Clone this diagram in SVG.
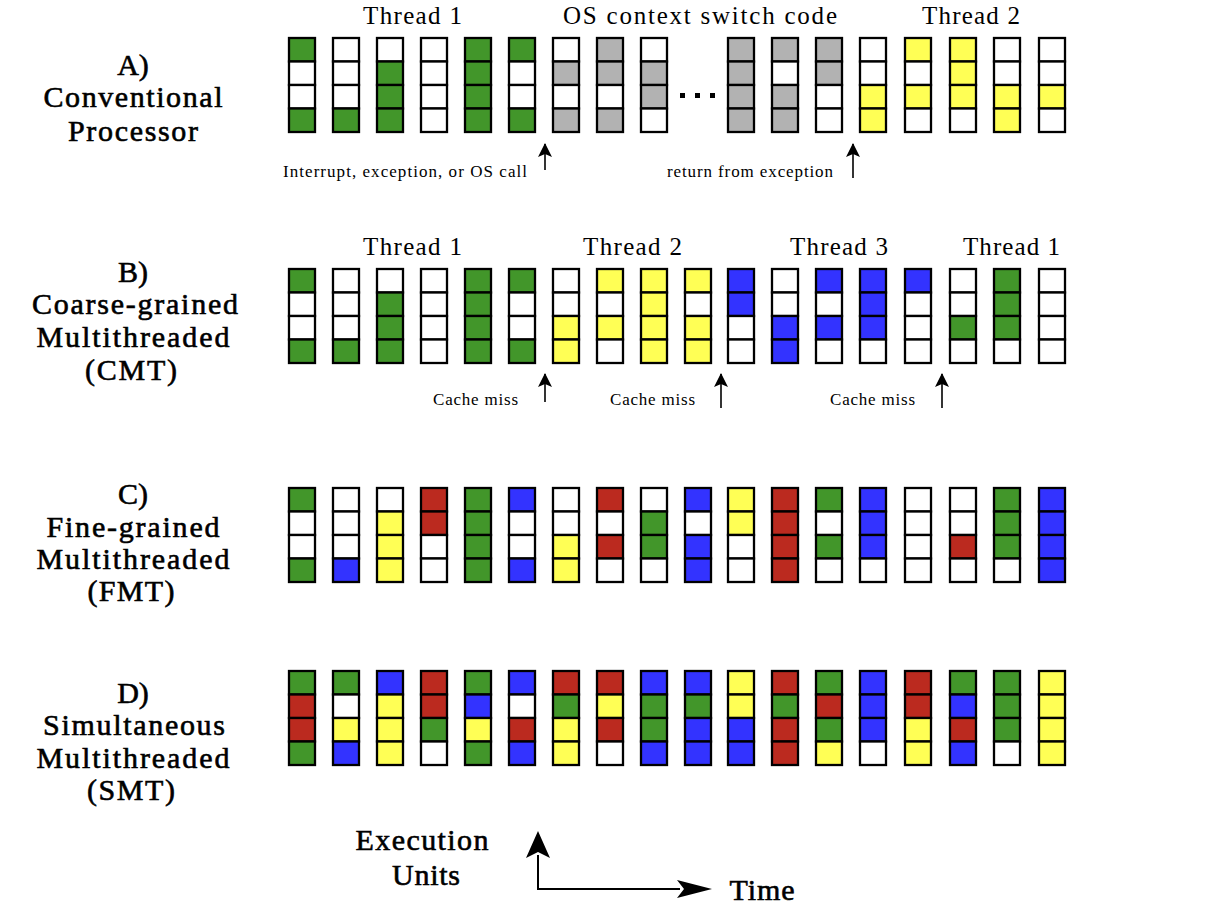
<svg xmlns="http://www.w3.org/2000/svg" xmlns:xlink="http://www.w3.org/1999/xlink" width="1206" height="910" viewBox="0 0 1206 910">
<style>
.c{stroke:#000;stroke-width:2.3}
.g{fill:#42962a}.w{fill:#fff}.y{fill:#ffff55}.b{fill:#3333ff}.r{fill:#bb2a1f}.s{fill:#b2b2b2}
text{font-family:"Liberation Serif","Times New Roman",serif;fill:#000}
.hd{font-size:25px}
.lb{font-size:30px;text-anchor:middle;stroke:#000;stroke-width:0.6}
.an{font-size:17px}
.ar{stroke:#000;stroke-width:1.6;fill:none}
.ax{stroke:#000;stroke-width:2;fill:none}
</style>
<defs>
<rect id="G" class="c g" x="1" y="1" width="26" height="23.5"/>
<rect id="W" class="c w" x="1" y="1" width="26" height="23.5"/>
<rect id="Y" class="c y" x="1" y="1" width="26" height="23.5"/>
<rect id="B" class="c b" x="1" y="1" width="26" height="23.5"/>
<rect id="R" class="c r" x="1" y="1" width="26" height="23.5"/>
<rect id="S" class="c s" x="1" y="1" width="26" height="23.5"/>
<marker id="ah" markerWidth="14" markerHeight="14" refX="13" refY="7" orient="auto" markerUnits="userSpaceOnUse"><path d="M0,0 L14,7 L0,14 L3,7 z" fill="#000"/></marker>
</defs>
<rect width="1206" height="910" fill="#fff"/>

<!-- Labels -->
<g id="label-a">
<text class="lb" x="133" y="75">A)</text>
<text class="lb" x="133" y="107" textLength="179" lengthAdjust="spacing">Conventional</text>
<text class="lb" x="133" y="141" textLength="130" lengthAdjust="spacing">Processor</text>
</g>
<g id="label-b">
<text class="lb" x="133" y="282">B)</text>
<text class="lb" x="135" y="314" textLength="206" lengthAdjust="spacing">Coarse-grained</text>
<text class="lb" x="133" y="347" textLength="193" lengthAdjust="spacing">Multithreaded</text>
<text class="lb" x="131" y="380" textLength="92" lengthAdjust="spacing">(CMT)</text>
</g>
<g id="label-c">
<text class="lb" x="133" y="504">C)</text>
<text class="lb" x="133" y="537" textLength="173" lengthAdjust="spacing">Fine-grained</text>
<text class="lb" x="133" y="569" textLength="193" lengthAdjust="spacing">Multithreaded</text>
<text class="lb" x="131" y="601" textLength="87" lengthAdjust="spacing">(FMT)</text>
</g>
<g id="label-d">
<text class="lb" x="133" y="703">D)</text>
<text class="lb" x="134" y="735" textLength="182" lengthAdjust="spacing">Simultaneous</text>
<text class="lb" x="133" y="768" textLength="193" lengthAdjust="spacing">Multithreaded</text>
<text class="lb" x="131" y="800" textLength="88" lengthAdjust="spacing">(SMT)</text>
</g>

<!-- Headers -->
<g id="headers">
<text class="hd" x="363" y="24" textLength="99" lengthAdjust="spacing">Thread 1</text>
<text class="hd" x="563" y="24" textLength="274" lengthAdjust="spacing">OS context switch code</text>
<text class="hd" x="922" y="24" textLength="98" lengthAdjust="spacing">Thread 2</text>
<text class="hd" x="363" y="255" textLength="99" lengthAdjust="spacing">Thread 1</text>
<text class="hd" x="583" y="255" textLength="99" lengthAdjust="spacing">Thread 2</text>
<text class="hd" x="790" y="255" textLength="98" lengthAdjust="spacing">Thread 3</text>
<text class="hd" x="963" y="255" textLength="97" lengthAdjust="spacing">Thread 1</text>
</g>

<!-- Annotations -->
<g id="annotations">
<text class="an" x="283" y="177" textLength="244" lengthAdjust="spacing">Interrupt, exception, or OS call</text>
<text class="an" x="667" y="177" textLength="166" lengthAdjust="spacing">return from exception</text>
<text class="an" x="433" y="405" textLength="85" lengthAdjust="spacing">Cache miss</text>
<text class="an" x="610" y="405" textLength="85" lengthAdjust="spacing">Cache miss</text>
<text class="an" x="830" y="405" textLength="85" lengthAdjust="spacing">Cache miss</text>
</g>

<!-- Row A -->
<g id="row-a">
<g id="a0" transform="translate(288,37)"><use href="#G"/><use href="#W" y="23.5"/><use href="#W" y="47"/><use href="#G" y="70.5"/></g>
<g id="a1" transform="translate(332,37)"><use href="#W"/><use href="#W" y="23.5"/><use href="#W" y="47"/><use href="#G" y="70.5"/></g>
<g id="a2" transform="translate(376,37)"><use href="#W"/><use href="#G" y="23.5"/><use href="#G" y="47"/><use href="#G" y="70.5"/></g>
<g id="a3" transform="translate(420,37)"><use href="#W"/><use href="#W" y="23.5"/><use href="#W" y="47"/><use href="#W" y="70.5"/></g>
<g id="a4" transform="translate(464,37)"><use href="#G"/><use href="#G" y="23.5"/><use href="#G" y="47"/><use href="#G" y="70.5"/></g>
<g id="a5" transform="translate(508,37)"><use href="#G"/><use href="#W" y="23.5"/><use href="#W" y="47"/><use href="#G" y="70.5"/></g>
<g id="a6" transform="translate(552,37)"><use href="#W"/><use href="#S" y="23.5"/><use href="#W" y="47"/><use href="#S" y="70.5"/></g>
<g id="a7" transform="translate(596,37)"><use href="#S"/><use href="#S" y="23.5"/><use href="#W" y="47"/><use href="#S" y="70.5"/></g>
<g id="a8" transform="translate(640,37)"><use href="#W"/><use href="#S" y="23.5"/><use href="#S" y="47"/><use href="#W" y="70.5"/></g>
<g id="a-dots"><rect x="680" y="93" width="5" height="5"/><rect x="695" y="93" width="5" height="5"/><rect x="710" y="93" width="5" height="5"/></g>
<g id="a10" transform="translate(727,37)"><use href="#S"/><use href="#S" y="23.5"/><use href="#S" y="47"/><use href="#S" y="70.5"/></g>
<g id="a11" transform="translate(771,37)"><use href="#S"/><use href="#W" y="23.5"/><use href="#S" y="47"/><use href="#S" y="70.5"/></g>
<g id="a12" transform="translate(815,37)"><use href="#S"/><use href="#S" y="23.5"/><use href="#W" y="47"/><use href="#W" y="70.5"/></g>
<g id="a13" transform="translate(859,37)"><use href="#W"/><use href="#W" y="23.5"/><use href="#Y" y="47"/><use href="#Y" y="70.5"/></g>
<g id="a14" transform="translate(904,37)"><use href="#Y"/><use href="#W" y="23.5"/><use href="#Y" y="47"/><use href="#W" y="70.5"/></g>
<g id="a15" transform="translate(949,37)"><use href="#Y"/><use href="#Y" y="23.5"/><use href="#Y" y="47"/><use href="#W" y="70.5"/></g>
<g id="a16" transform="translate(993,37)"><use href="#W"/><use href="#W" y="23.5"/><use href="#Y" y="47"/><use href="#Y" y="70.5"/></g>
<g id="a17" transform="translate(1038,37)"><use href="#W"/><use href="#W" y="23.5"/><use href="#Y" y="47"/><use href="#W" y="70.5"/></g>
</g>

<!-- Row B -->
<g id="row-b">
<g id="b0" transform="translate(288,268)"><use href="#G"/><use href="#W" y="23.5"/><use href="#W" y="47"/><use href="#G" y="70.5"/></g>
<g id="b1" transform="translate(332,268)"><use href="#W"/><use href="#W" y="23.5"/><use href="#W" y="47"/><use href="#G" y="70.5"/></g>
<g id="b2" transform="translate(376,268)"><use href="#W"/><use href="#G" y="23.5"/><use href="#G" y="47"/><use href="#G" y="70.5"/></g>
<g id="b3" transform="translate(420,268)"><use href="#W"/><use href="#W" y="23.5"/><use href="#W" y="47"/><use href="#W" y="70.5"/></g>
<g id="b4" transform="translate(464,268)"><use href="#G"/><use href="#G" y="23.5"/><use href="#G" y="47"/><use href="#G" y="70.5"/></g>
<g id="b5" transform="translate(508,268)"><use href="#G"/><use href="#W" y="23.5"/><use href="#W" y="47"/><use href="#G" y="70.5"/></g>
<g id="b6" transform="translate(552,268)"><use href="#W"/><use href="#W" y="23.5"/><use href="#Y" y="47"/><use href="#Y" y="70.5"/></g>
<g id="b7" transform="translate(596,268)"><use href="#Y"/><use href="#W" y="23.5"/><use href="#Y" y="47"/><use href="#W" y="70.5"/></g>
<g id="b8" transform="translate(640,268)"><use href="#Y"/><use href="#Y" y="23.5"/><use href="#Y" y="47"/><use href="#Y" y="70.5"/></g>
<g id="b9" transform="translate(684,268)"><use href="#Y"/><use href="#W" y="23.5"/><use href="#Y" y="47"/><use href="#Y" y="70.5"/></g>
<g id="b10" transform="translate(727,268)"><use href="#B"/><use href="#B" y="23.5"/><use href="#W" y="47"/><use href="#W" y="70.5"/></g>
<g id="b11" transform="translate(771,268)"><use href="#W"/><use href="#W" y="23.5"/><use href="#B" y="47"/><use href="#B" y="70.5"/></g>
<g id="b12" transform="translate(815,268)"><use href="#B"/><use href="#W" y="23.5"/><use href="#B" y="47"/><use href="#W" y="70.5"/></g>
<g id="b13" transform="translate(859,268)"><use href="#B"/><use href="#B" y="23.5"/><use href="#B" y="47"/><use href="#W" y="70.5"/></g>
<g id="b14" transform="translate(904,268)"><use href="#B"/><use href="#W" y="23.5"/><use href="#W" y="47"/><use href="#W" y="70.5"/></g>
<g id="b15" transform="translate(949,268)"><use href="#W"/><use href="#W" y="23.5"/><use href="#G" y="47"/><use href="#W" y="70.5"/></g>
<g id="b16" transform="translate(993,268)"><use href="#G"/><use href="#G" y="23.5"/><use href="#G" y="47"/><use href="#W" y="70.5"/></g>
<g id="b17" transform="translate(1038,268)"><use href="#W"/><use href="#W" y="23.5"/><use href="#W" y="47"/><use href="#W" y="70.5"/></g>
</g>

<!-- Row C -->
<g id="row-c">
<g id="c0" transform="translate(288,487)"><use href="#G"/><use href="#W" y="23.5"/><use href="#W" y="47"/><use href="#G" y="70.5"/></g>
<g id="c1" transform="translate(332,487)"><use href="#W"/><use href="#W" y="23.5"/><use href="#W" y="47"/><use href="#B" y="70.5"/></g>
<g id="c2" transform="translate(376,487)"><use href="#W"/><use href="#Y" y="23.5"/><use href="#Y" y="47"/><use href="#Y" y="70.5"/></g>
<g id="c3" transform="translate(420,487)"><use href="#R"/><use href="#R" y="23.5"/><use href="#W" y="47"/><use href="#W" y="70.5"/></g>
<g id="c4" transform="translate(464,487)"><use href="#G"/><use href="#G" y="23.5"/><use href="#G" y="47"/><use href="#G" y="70.5"/></g>
<g id="c5" transform="translate(508,487)"><use href="#B"/><use href="#W" y="23.5"/><use href="#W" y="47"/><use href="#B" y="70.5"/></g>
<g id="c6" transform="translate(552,487)"><use href="#W"/><use href="#W" y="23.5"/><use href="#Y" y="47"/><use href="#Y" y="70.5"/></g>
<g id="c7" transform="translate(596,487)"><use href="#R"/><use href="#W" y="23.5"/><use href="#R" y="47"/><use href="#W" y="70.5"/></g>
<g id="c8" transform="translate(640,487)"><use href="#W"/><use href="#G" y="23.5"/><use href="#G" y="47"/><use href="#W" y="70.5"/></g>
<g id="c9" transform="translate(684,487)"><use href="#B"/><use href="#W" y="23.5"/><use href="#B" y="47"/><use href="#B" y="70.5"/></g>
<g id="c10" transform="translate(727,487)"><use href="#Y"/><use href="#Y" y="23.5"/><use href="#W" y="47"/><use href="#W" y="70.5"/></g>
<g id="c11" transform="translate(771,487)"><use href="#R"/><use href="#R" y="23.5"/><use href="#R" y="47"/><use href="#R" y="70.5"/></g>
<g id="c12" transform="translate(815,487)"><use href="#G"/><use href="#W" y="23.5"/><use href="#G" y="47"/><use href="#W" y="70.5"/></g>
<g id="c13" transform="translate(859,487)"><use href="#B"/><use href="#B" y="23.5"/><use href="#B" y="47"/><use href="#W" y="70.5"/></g>
<g id="c14" transform="translate(904,487)"><use href="#W"/><use href="#W" y="23.5"/><use href="#W" y="47"/><use href="#W" y="70.5"/></g>
<g id="c15" transform="translate(949,487)"><use href="#W"/><use href="#W" y="23.5"/><use href="#R" y="47"/><use href="#W" y="70.5"/></g>
<g id="c16" transform="translate(993,487)"><use href="#G"/><use href="#G" y="23.5"/><use href="#G" y="47"/><use href="#W" y="70.5"/></g>
<g id="c17" transform="translate(1038,487)"><use href="#B"/><use href="#B" y="23.5"/><use href="#B" y="47"/><use href="#B" y="70.5"/></g>
</g>

<!-- Row D -->
<g id="row-d">
<g id="d0" transform="translate(288,670)"><use href="#G"/><use href="#R" y="23.5"/><use href="#R" y="47"/><use href="#G" y="70.5"/></g>
<g id="d1" transform="translate(332,670)"><use href="#G"/><use href="#W" y="23.5"/><use href="#Y" y="47"/><use href="#B" y="70.5"/></g>
<g id="d2" transform="translate(376,670)"><use href="#B"/><use href="#Y" y="23.5"/><use href="#Y" y="47"/><use href="#Y" y="70.5"/></g>
<g id="d3" transform="translate(420,670)"><use href="#R"/><use href="#R" y="23.5"/><use href="#G" y="47"/><use href="#W" y="70.5"/></g>
<g id="d4" transform="translate(464,670)"><use href="#G"/><use href="#B" y="23.5"/><use href="#Y" y="47"/><use href="#G" y="70.5"/></g>
<g id="d5" transform="translate(508,670)"><use href="#B"/><use href="#W" y="23.5"/><use href="#R" y="47"/><use href="#B" y="70.5"/></g>
<g id="d6" transform="translate(552,670)"><use href="#R"/><use href="#G" y="23.5"/><use href="#Y" y="47"/><use href="#Y" y="70.5"/></g>
<g id="d7" transform="translate(596,670)"><use href="#R"/><use href="#Y" y="23.5"/><use href="#R" y="47"/><use href="#W" y="70.5"/></g>
<g id="d8" transform="translate(640,670)"><use href="#B"/><use href="#G" y="23.5"/><use href="#G" y="47"/><use href="#B" y="70.5"/></g>
<g id="d9" transform="translate(684,670)"><use href="#B"/><use href="#G" y="23.5"/><use href="#B" y="47"/><use href="#B" y="70.5"/></g>
<g id="d10" transform="translate(727,670)"><use href="#Y"/><use href="#Y" y="23.5"/><use href="#B" y="47"/><use href="#B" y="70.5"/></g>
<g id="d11" transform="translate(771,670)"><use href="#R"/><use href="#G" y="23.5"/><use href="#R" y="47"/><use href="#R" y="70.5"/></g>
<g id="d12" transform="translate(815,670)"><use href="#G"/><use href="#R" y="23.5"/><use href="#G" y="47"/><use href="#Y" y="70.5"/></g>
<g id="d13" transform="translate(859,670)"><use href="#B"/><use href="#B" y="23.5"/><use href="#B" y="47"/><use href="#W" y="70.5"/></g>
<g id="d14" transform="translate(904,670)"><use href="#R"/><use href="#R" y="23.5"/><use href="#Y" y="47"/><use href="#Y" y="70.5"/></g>
<g id="d15" transform="translate(949,670)"><use href="#G"/><use href="#B" y="23.5"/><use href="#R" y="47"/><use href="#B" y="70.5"/></g>
<g id="d16" transform="translate(993,670)"><use href="#G"/><use href="#G" y="23.5"/><use href="#G" y="47"/><use href="#W" y="70.5"/></g>
<g id="d17" transform="translate(1038,670)"><use href="#Y"/><use href="#Y" y="23.5"/><use href="#Y" y="47"/><use href="#Y" y="70.5"/></g>
</g>

<!-- Connectors -->
<g id="connectors">
<line class="ar" x1="545" y1="170" x2="545" y2="144" marker-end="url(#ah)"/>
<line class="ar" x1="853" y1="178" x2="853" y2="144" marker-end="url(#ah)"/>
<line class="ar" x1="545" y1="402" x2="545" y2="374" marker-end="url(#ah)"/>
<line class="ar" x1="721" y1="408" x2="721" y2="374" marker-end="url(#ah)"/>
<line class="ar" x1="942" y1="408" x2="942" y2="374" marker-end="url(#ah)"/>
</g>

<!-- Axes legend -->
<g id="axes">
<path class="ax" d="M538,855 L538,889 L680,889"/>
<path d="M538,831 L550,858 L538,852 L526,858 Z" fill="#000"/>
<path d="M712,889 L677,880 L684,889 L677,898 Z" fill="#000"/>
<text class="lb" x="422" y="850" textLength="133" lengthAdjust="spacing">Execution</text>
<text class="lb" x="426" y="885" textLength="68" lengthAdjust="spacing">Units</text>
<text class="lb" x="762" y="900" textLength="65" lengthAdjust="spacing">Time</text>
</g>
</svg>
